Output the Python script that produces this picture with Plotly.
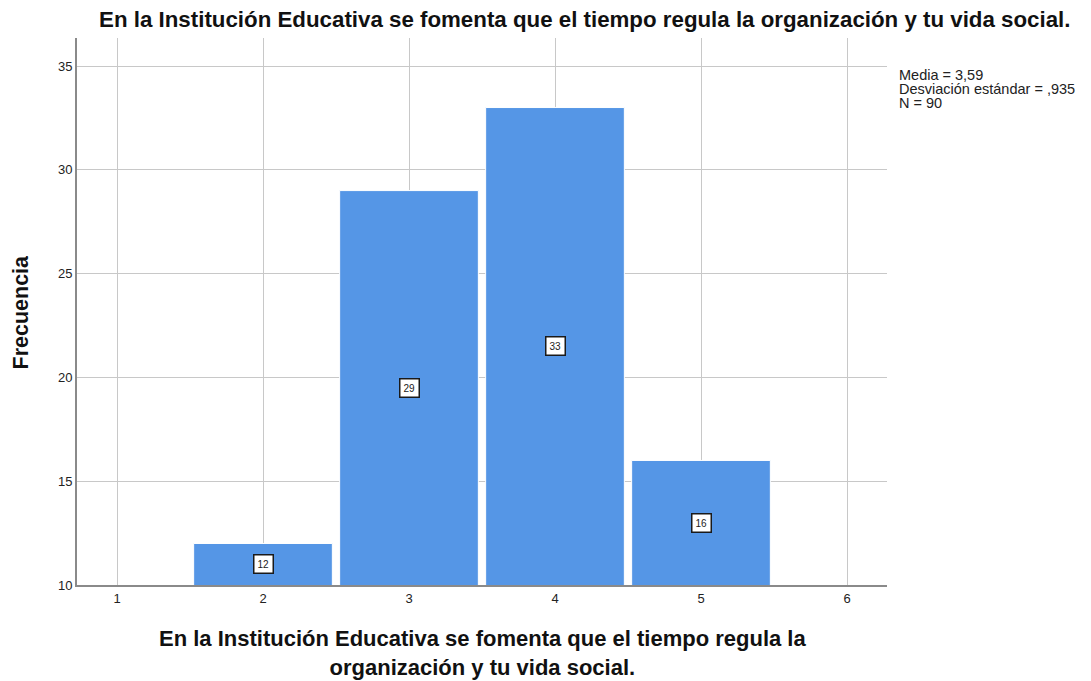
import plotly.graph_objects as go

# Frequencies per response value
categorias = [2, 3, 4, 5]
frecuencias = [12, 29, 33, 16]

titulo = "En la Institución Educativa se fomenta que el tiempo regula la organización y tu vida social."
eje_x_lineas = ["En la Institución Educativa se fomenta que el tiempo regula la",
                "organización y tu vida social."]
eje_y = "Frecuencia"
estadisticos = ["Media = 3,59", "Desviación estándar = ,935", "N = 90"]
ticks_x = [1, 2, 3, 4, 5, 6]
ticks_y = [10, 15, 20, 25, 30, 35]

Y_MIN = 10
FONT = "Liberation Sans, Arial, sans-serif"
PLOT_H = 547  # plot area height in px (681 - 38 - 96)

fig = go.Figure()
fig.add_trace(go.Bar(
    x=categorias,
    y=frecuencias,
    width=0.95,
    marker=dict(color="#5596E6", line=dict(color="white", width=1)),
    hoverinfo="x+y",
))

# Boxed count labels in the middle of the visible part of each bar
for c, f in zip(categorias, frecuencias):
    fig.add_annotation(
        x=c, y=(Y_MIN + f) / 2, text=str(f), showarrow=False,
        font=dict(family=FONT, size=10, color="#222"),
        bgcolor="white", bordercolor="#1a1a1a", borderwidth=1.5, borderpad=3,
    )

# Summary statistics to the right of the plot
for i, linea in enumerate(estadisticos):
    fig.add_annotation(
        xref="paper", yref="paper", x=1.012, y=(585 - 75 - 14 * i) / PLOT_H,
        xanchor="left", yanchor="middle", text=linea, showarrow=False,
        font=dict(family=FONT, size=14.5, color="#222"),
    )

# X axis title, two lines
fig.add_annotation(
    xref="paper", yref="paper", x=0.501, y=(585 - 653) / PLOT_H,
    xanchor="center", yanchor="middle",
    text="<br>".join("<b>" + l + "</b>" for l in eje_x_lineas),
    showarrow=False, font=dict(family=FONT, size=22, color="#111"),
)

# Y axis title
fig.add_annotation(
    xref="paper", yref="paper", x=(20 - 77) / 810, y=0.5,
    xanchor="center", yanchor="middle", textangle=-90,
    text="<b>" + eje_y + "</b>", showarrow=False,
    font=dict(family=FONT, size=21.5, color="#111"),
)

fig.update_layout(
    width=1091, height=681,
    margin=dict(l=77, r=204, t=38, b=96),
    paper_bgcolor="white", plot_bgcolor="white",
    showlegend=False,
    title=dict(text="<b>" + titulo + "</b>", x=0.536, xanchor="center",
               y=1 - 19 / 681, yanchor="middle",
               font=dict(family=FONT, size=22.3, color="#111")),
    font=dict(family=FONT),
)

fig.update_xaxes(
    range=[0.726, 6.274], tickvals=ticks_x, ticktext=[str(t) for t in ticks_x],
    showgrid=True, gridcolor="#c8c8c8", gridwidth=1,
    showline=True, linecolor="#8a8a8a", linewidth=2,
    ticks="", tickfont=dict(family=FONT, size=13, color="#222"),
    zeroline=False,
)
fig.update_yaxes(
    range=[Y_MIN, 36.35], tickvals=ticks_y,
    showgrid=True, gridcolor="#c8c8c8", gridwidth=1,
    showline=True, linecolor="#8a8a8a", linewidth=2,
    ticks="", tickfont=dict(family=FONT, size=13, color="#222"),
    zeroline=False,
)

fig.write_html("out.html")
